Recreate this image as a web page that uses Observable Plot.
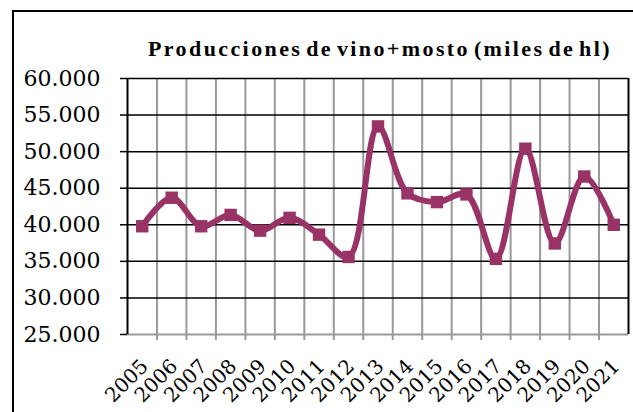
<!DOCTYPE html>
<html>
<head>
<meta charset="utf-8">
<script src="https://cdn.jsdelivr.net/npm/d3@7"></script>
<script src="https://cdn.jsdelivr.net/npm/@observablehq/plot@0.6"></script>
<style>
  html, body { margin: 0; padding: 0; background: #fff; overflow: hidden; }
  #wrap { position: relative; width: 633px; height: 412px; }
  #frame { position: absolute; left: 12px; top: 10px; width: 700px; height: 500px; border: 2px solid #000; box-sizing: border-box; }
  #title { position: absolute; left: 0; width: 760px; top: 36px; text-align: center; font-family: "Liberation Serif", serif; font-weight: bold; font-size: 22px; letter-spacing: 2.4px; word-spacing: -4px; color: #000; white-space: nowrap; }
  #chart { position: absolute; left: 0; top: 70px; }
</style>
</head>
<body>
<div id="wrap">
  <div id="frame"></div>
  <div id="title">Producciones de vino+mosto (miles de hl)</div>
  <div id="chart"></div>
</div>
<script>
const years = [2005, 2006, 2007, 2008, 2009, 2010, 2011, 2012, 2013, 2014, 2015, 2016, 2017, 2018, 2019, 2020, 2021];
const production = [39800, 43700, 39800, 41350, 39200, 40950, 38650, 35600, 53450, 44300, 43100, 44150, 35350, 50400, 37450, 46600, 40000];
const yTicks = [25000, 30000, 35000, 40000, 45000, 50000, 55000, 60000];

const data = years.map((y, i) => ({year: y, value: production[i]}));
const boundaries = years.map(y => y - 0.5).concat([years[years.length - 1] + 0.5]);
const yMin = yTicks[0], yMax = yTicks[yTicks.length - 1];
const fmt = d => d3.format(",")(d).replace(/,/g, ".");
const color = "#993366";

const chart = Plot.plot({
  width: 633,
  height: 342,
  marginLeft: 127,
  marginRight: 5,
  marginTop: 8,
  marginBottom: 78,
  style: { fontFamily: "DejaVu Serif, serif", background: "transparent", overflow: "visible" },
  x: { type: "linear", domain: [boundaries[0], boundaries[boundaries.length - 1]], axis: null },
  y: { domain: [yMin, yMax], axis: null },
  marks: [
    Plot.ruleX(boundaries.slice(1, -1), { stroke: "#999", strokeWidth: 2, insetBottom: -6 }),
    Plot.ruleY(yTicks.slice(1), { stroke: "#000", strokeWidth: 1.5 }),
    Plot.ruleY([yMin], { stroke: "#999", strokeWidth: 2 }),
    Plot.ruleX([boundaries[boundaries.length - 1]], { stroke: "#000", strokeWidth: 2 }),
    Plot.ruleX([boundaries[0]], { stroke: "#000", strokeWidth: 2 }),
    Plot.axisY({ ticks: yTicks, label: null, tickSize: 7, tickPadding: 20, tickFormat: fmt, fontSize: 22, stroke: "#000", strokeWidth: 1.5, fill: "#000", style: "letter-spacing:2.3px" }),
    Plot.line(data, { x: "year", y: "value", curve: "catmull-rom", stroke: color, strokeWidth: 6 }),
    Plot.dot(data, { x: "year", y: "value", symbol: "square", r: 7, fill: color, stroke: "none" }),
    Plot.text(years, { x: d => d, y: () => yMin, text: d => String(d), rotate: -45, textAnchor: "end", lineAnchor: "top", dx: -3, dy: 23, fontSize: 20, fill: "#000", style: "letter-spacing:3.5px" })
  ]
});
document.getElementById("chart").appendChild(chart);
</script>
</body>
</html>
